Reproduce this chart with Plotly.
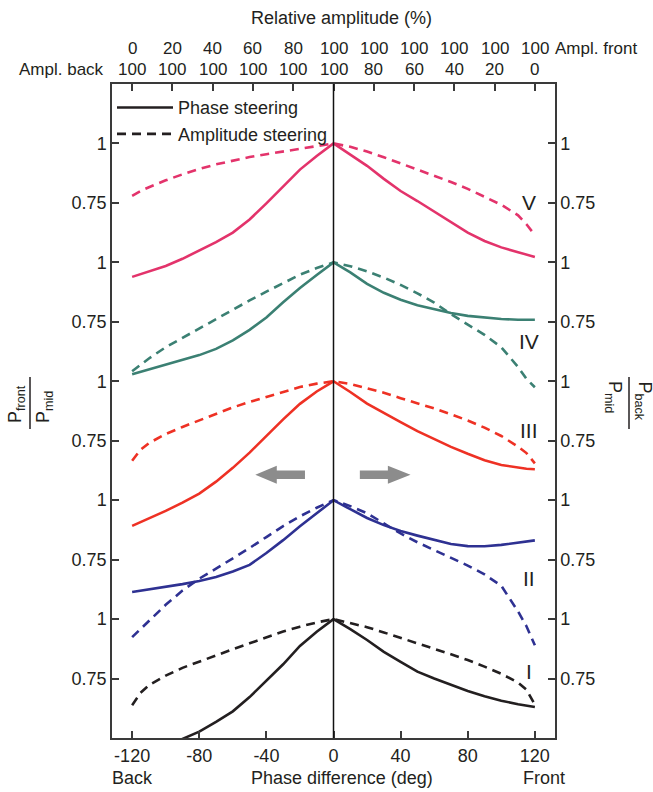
import plotly.graph_objects as go

# ---------------- data ----------------
PHASE_DEG = [-120, -115, -110, -100, -90, -80, -70, -60, -50, -40, -30, -20, -10, 0,
             10, 20, 30, 40, 50, 60, 70, 80, 90, 100, 110, 115, 120]

PANELS = ["I", "II", "III", "IV", "V"]
COLORS = ["#231f20", "#2e3192", "#ee3124", "#3b8073", "#e3336b"]

PHASE_I = [0.41, 0.425, 0.44, 0.465, 0.495, 0.527, 0.568, 0.612, 0.672, 0.742, 0.81, 0.887, 0.947, 1.0,
           0.958, 0.912, 0.862, 0.82, 0.779, 0.75, 0.724, 0.698, 0.676, 0.657, 0.642, 0.636, 0.63]
AMPL_I = [0.638, 0.69, 0.722, 0.762, 0.795, 0.822, 0.848, 0.873, 0.898, 0.923, 0.948, 0.968, 0.986, 1.0,
          0.983, 0.966, 0.944, 0.922, 0.899, 0.875, 0.852, 0.828, 0.8, 0.77, 0.733, 0.703, 0.64]

PHASE_II = [0.614, 0.619, 0.624, 0.635, 0.647, 0.66, 0.677, 0.70, 0.728, 0.778, 0.832, 0.89, 0.946, 1.0,
            0.962, 0.925, 0.895, 0.87, 0.851, 0.834, 0.816, 0.807, 0.806, 0.812, 0.82, 0.825, 0.831]
AMPL_II = [0.424, 0.458, 0.49, 0.56, 0.62, 0.67, 0.712, 0.754, 0.799, 0.845, 0.891, 0.932, 0.968, 1.0,
           0.975, 0.945, 0.902, 0.86, 0.823, 0.79, 0.758, 0.725, 0.688, 0.64, 0.532, 0.47, 0.39]

PHASE_III = [0.392, 0.407, 0.422, 0.455, 0.49, 0.528, 0.578, 0.636, 0.70, 0.77, 0.84, 0.905, 0.957, 1.0,
             0.955, 0.906, 0.866, 0.828, 0.79, 0.757, 0.724, 0.695, 0.668, 0.648, 0.636, 0.632, 0.63]
AMPL_III = [0.666, 0.712, 0.74, 0.778, 0.808, 0.835, 0.864, 0.89, 0.913, 0.935, 0.956, 0.976, 0.99, 1.0,
            0.989, 0.972, 0.952, 0.929, 0.908, 0.886, 0.861, 0.835, 0.805, 0.77, 0.725, 0.698, 0.655]

PHASE_IV = [0.53, 0.54, 0.55, 0.567, 0.587, 0.61, 0.636, 0.672, 0.716, 0.768, 0.832, 0.892, 0.947, 1.0,
            0.958, 0.91, 0.872, 0.843, 0.82, 0.802, 0.787, 0.775, 0.767, 0.762, 0.759, 0.758, 0.759]
AMPL_IV = [0.542, 0.57, 0.596, 0.643, 0.683, 0.721, 0.761, 0.8, 0.84, 0.877, 0.914, 0.948, 0.976, 1.0,
           0.984, 0.962, 0.936, 0.905, 0.87, 0.831, 0.782, 0.74, 0.695, 0.643, 0.56, 0.51, 0.475]

PHASE_V = [0.439, 0.45, 0.461, 0.485, 0.515, 0.55, 0.585, 0.625, 0.68, 0.748, 0.82, 0.89, 0.947, 1.0,
           0.953, 0.906, 0.851, 0.8, 0.758, 0.714, 0.668, 0.625, 0.59, 0.563, 0.543, 0.533, 0.523]
AMPL_V = [0.78, 0.8, 0.816, 0.845, 0.87, 0.893, 0.912, 0.928, 0.943, 0.955, 0.967, 0.979, 0.99, 1.0,
          0.986, 0.966, 0.942, 0.916, 0.891, 0.866, 0.838, 0.809, 0.777, 0.742, 0.698, 0.66, 0.615]

PHASE_SERIES = [PHASE_I, PHASE_II, PHASE_III, PHASE_IV, PHASE_V]
AMPL_SERIES = [AMPL_I, AMPL_II, AMPL_III, AMPL_IV, AMPL_V]

# label level of roman numerals (in panel units)
LABEL_LEVEL = [0.778, 0.671, 0.792, 0.669, 0.75]

BOTTOM_TICKS = [-120, -80, -40, 0, 40, 80, 120]
TOP_TICK_DEG = [-120, -96, -72, -48, -24, 0, 24, 48, 72, 96, 120]
AMPL_FRONT = [0, 20, 40, 60, 80, 100, 100, 100, 100, 100, 100]
AMPL_BACK = [100, 100, 100, 100, 100, 100, 80, 60, 40, 20, 0]
Y_TICK_VALUES = [0.75, 1.0]

# ---------------- figure ----------------
FONT = "Liberation Sans, Arial, sans-serif"
TXT = "#231f20"
STEP = 0.5  # vertical offset between stacked panels

fig = go.Figure()

for k, name in enumerate(PANELS):
    off = STEP * k
    fig.add_trace(go.Scatter(
        x=PHASE_DEG, y=[v + off for v in PHASE_SERIES[k]], mode="lines",
        line=dict(color=COLORS[k], width=2.6),
        name="Phase steering", showlegend=(k == 0),
        hoverinfo="skip"))
    fig.add_trace(go.Scatter(
        x=PHASE_DEG, y=[v + off for v in AMPL_SERIES[k]], mode="lines",
        line=dict(color=COLORS[k], width=2.6, dash="9px,6px"),
        name="Amplitude steering", showlegend=(k == 0),
        hoverinfo="skip"))

# helper invisible traces so top & right axes are drawn
fig.add_trace(go.Scatter(x=[0], y=[1], xaxis="x2", yaxis="y", mode="markers",
                         marker=dict(opacity=0), showlegend=False, hoverinfo="skip"))
fig.add_trace(go.Scatter(x=[0], y=[1], xaxis="x", yaxis="y2", mode="markers",
                         marker=dict(opacity=0), showlegend=False, hoverinfo="skip"))

ytickvals, yticktext = [], []
for k in range(len(PANELS)):
    for v in Y_TICK_VALUES:
        ytickvals.append(v + STEP * k)
        yticktext.append("1" if v == 1.0 else "0.75")

XR = [-132, 132]
YR = [0.5, 3.25]
axis_common = dict(showgrid=False, zeroline=False, showline=True, linecolor="#3a3a3a",
                   linewidth=1.5, ticks="inside", ticklen=7, tickwidth=1.5, tickcolor="#3a3a3a",
                   tickfont=dict(family=FONT, size=18, color=TXT))

fig.update_layout(
    width=653, height=792,
    margin=dict(l=112, r=98, t=84, b=54),
    plot_bgcolor="white", paper_bgcolor="white",
    font=dict(family=FONT, size=18, color=TXT),
    xaxis=dict(range=XR, tickvals=BOTTOM_TICKS, ticktext=[str(t) for t in BOTTOM_TICKS],
               ticklabelstandoff=1, **axis_common),
    xaxis2=dict(range=XR, overlaying="x", side="top", tickvals=TOP_TICK_DEG,
                showticklabels=False, **axis_common),
    yaxis=dict(range=YR, tickvals=ytickvals, ticktext=yticktext, **axis_common),
    yaxis2=dict(range=YR, overlaying="y", side="right", tickvals=ytickvals, ticktext=yticktext,
                **axis_common),
    legend=dict(x=0.0, y=0.992, xanchor="left", yanchor="top", bgcolor="rgba(0,0,0,0)",
                font=dict(family=FONT, size=18, color=TXT), itemwidth=56,
                tracegroupgap=0),
    showlegend=True,
)

shapes = [
    # vertical line at 0 deg
    dict(type="line", xref="x", yref="paper", x0=0, x1=0, y0=0, y1=1,
         line=dict(color="#111111", width=1.5)),
    # fraction bars of axis titles
    dict(type="line", xref="paper", yref="paper", x0=(30 - 112) / 443, x1=(30 - 112) / 443,
         y0=(738 - 429) / 654, y1=(738 - 377) / 654, line=dict(color=TXT, width=1.5)),
    dict(type="line", xref="paper", yref="paper", x0=(629 - 112) / 443, x1=(629 - 112) / 443,
         y0=(738 - 429) / 654, y1=(738 - 377) / 654, line=dict(color=TXT, width=1.5)),
]
# grey direction arrows
ay, hh, sh = 1.607, 0.038, 0.0176
for tip, base, tail in [(-46.6, -33.8, -17.0), (45.9, 32.4, 15.7)]:
    path = (f"M {tip},{ay} L {base},{ay + hh} L {base},{ay + sh} L {tail},{ay + sh} "
            f"L {tail},{ay - sh} L {base},{ay - sh} L {base},{ay - hh} Z")
    shapes.append(dict(type="path", xref="x", yref="y", path=path,
                       fillcolor="#8c8c8c", line=dict(width=0)))
fig.update_layout(shapes=shapes)

TOPF = dict(family=FONT, size=17, color=TXT)
ann = []
# top amplitude rows
for d, f, b in zip(TOP_TICK_DEG, AMPL_FRONT, AMPL_BACK):
    ann.append(dict(x=d, y=1, xref="x", yref="paper", text=str(f), showarrow=False,
                    yanchor="middle", yshift=36, font=TOPF))
    ann.append(dict(x=d, y=1, xref="x", yref="paper", text=str(b), showarrow=False,
                    yanchor="middle", yshift=15, font=TOPF))
ann.append(dict(x=1.0, y=1, xref="paper", yref="paper", text="Ampl. front", showarrow=False,
                xanchor="left", yanchor="middle", yshift=36, xshift=-2, font=TOPF))
ann.append(dict(x=0.0, y=1, xref="paper", yref="paper", text="Ampl. back", showarrow=False,
                xanchor="right", yanchor="middle", yshift=15, xshift=-6, font=TOPF))
ann.append(dict(x=5, y=1, xref="x", yref="paper", text="Relative amplitude (%)", showarrow=False,
                yanchor="middle", yshift=66))
# bottom labels
ann.append(dict(x=5, y=0, xref="x", yref="paper", text="Phase difference (deg)", showarrow=False,
                yanchor="middle", yshift=-40))
ann.append(dict(x=0.0, y=0, xref="paper", yref="paper", text="Back", showarrow=False,
                xanchor="left", yanchor="middle", yshift=-40, xshift=-2))
ann.append(dict(x=1.0, y=0, xref="paper", yref="paper", text="Front", showarrow=False,
                xanchor="right", yanchor="middle", yshift=-40, xshift=12))
# roman numerals
for k, name in enumerate(PANELS):
    ann.append(dict(x=116.5, y=LABEL_LEVEL[k] + STEP * k, xref="x", yref="y", text=name,
                    showarrow=False, font=dict(size=21, family=FONT, color=TXT)))
# y-axis fraction titles
ann.append(dict(x=(16 - 112) / 443, y=(738 - 425) / 654, xref="paper", yref="paper",
                text="P<sub>front</sub>", textangle=-90, showarrow=False,
                xanchor="center", yanchor="bottom"))
ann.append(dict(x=(44 - 112) / 443, y=(738 - 425) / 654, xref="paper", yref="paper",
                text="P<sub>mid</sub>", textangle=-90, showarrow=False,
                xanchor="center", yanchor="bottom"))
ann.append(dict(x=(643 - 112) / 443, y=(738 - 379) / 654, xref="paper", yref="paper",
                text="P<sub>back</sub>", textangle=90, showarrow=False,
                xanchor="center", yanchor="top"))
ann.append(dict(x=(614 - 112) / 443, y=(738 - 379) / 654, xref="paper", yref="paper",
                text="P<sub>mid</sub>", textangle=90, showarrow=False,
                xanchor="center", yanchor="top"))
fig.update_layout(annotations=ann)

fig.write_html("out.html", config={"displayModeBar": False},
               post_script="document.body.style.margin='0';")
